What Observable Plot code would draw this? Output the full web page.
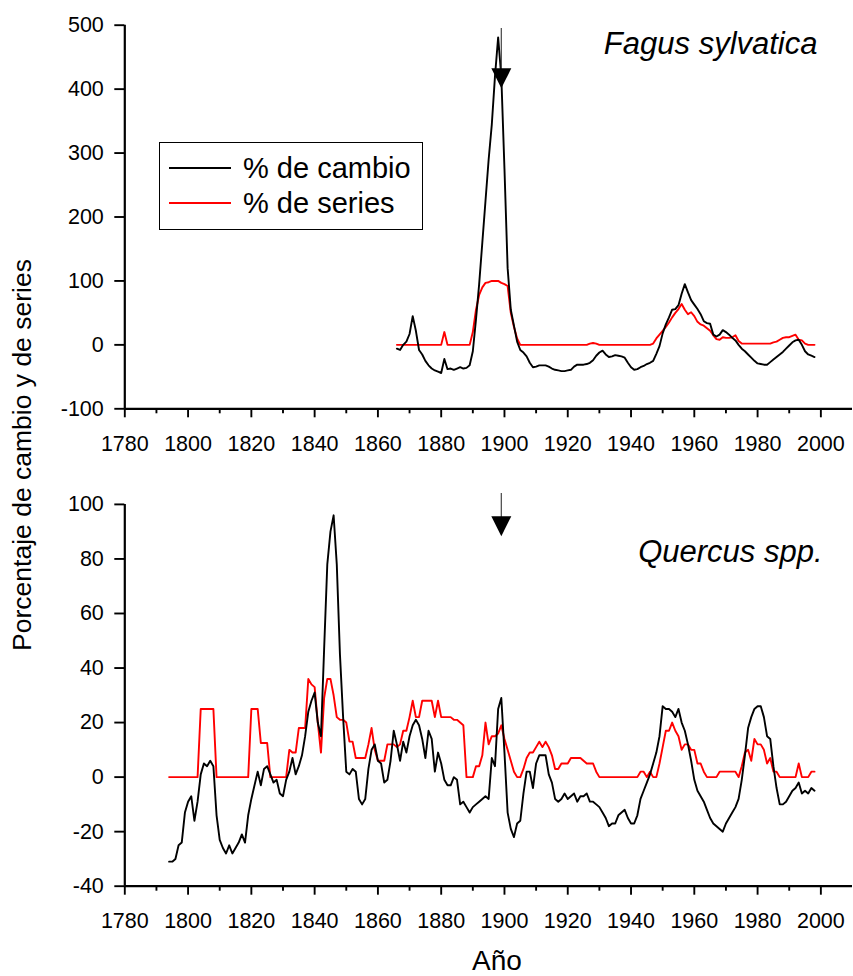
<!DOCTYPE html>
<html>
<head>
<meta charset="utf-8">
<script src="https://cdn.jsdelivr.net/npm/d3@7"></script>
<script src="https://cdn.jsdelivr.net/npm/@observablehq/plot@0.6"></script>
<style>
  html, body { margin: 0; padding: 0; background: #fff; }
  #wrap { position: relative; width: 853px; height: 976px; overflow: hidden; font-family: "Liberation Sans", Arial, sans-serif; color: #000; }
  #wrap svg { position: absolute; left: 0; overflow: visible; }
  .ylab { position: absolute; left: 22px; top: 455px; transform: translate(-50%, -50%) rotate(-90deg); font-size: 26.5px; line-height: 1; white-space: nowrap; }
  .xlab { position: absolute; left: 497px; top: 961px; transform: translate(-50%, -50%); font-size: 28px; line-height: 1; }
  .legend { position: absolute; left: 159px; top: 142px; width: 262px; height: 86px; border: 1.5px solid #000; background: #fff; }
  .legend .row { position: absolute; left: 9px; height: 30px; display: flex; align-items: center; font-size: 29px; line-height: 1; }
  .legend .sw { width: 62px; height: 2px; margin-right: 12px; }
</style>
</head>
<body>
<div id="wrap"></div>
<script>
// Fagus sylvatica: years 1866–1998
const fagusStart = 1866;
const fagusCambio = [
  -6, -8, 0, 5, 17, 45, 22, -8, -15, -25,            // 1866–1875
  -32, -37, -40, -42, -44, -22, -38, -37, -39, -37,  // 1876–1885
  -35, -37, -36, -32, -10, 40, 95, 160, 225, 290,    // 1886–1895
  345, 420, 481, 420, 275, 120, 55, 30, 5, -8,       // 1896–1905
  -12, -18, -28, -35, -34, -32, -32, -32, -34, -37,  // 1906–1915
  -39, -40, -41, -41, -40, -39, -34, -31, -31, -31,  // 1916–1925
  -30, -28, -24, -17, -12, -9, -15, -19, -18, -16,   // 1926–1935
  -17, -18, -20, -28, -35, -39, -38, -35, -33, -30,  // 1936–1945
  -28, -25, -14, -2, 18, 32, 43, 55, 56, 62,         // 1946–1955
  80, 95, 82, 70, 63, 56, 48, 37, 34, 33,            // 1956–1965
  16, 13, 16, 23, 20, 16, 11, 7, 0, -6,              // 1966–1975
  -10, -15, -20, -25, -29, -30, -31, -31, -27, -23,  // 1976–1985
  -19, -15, -11, -6, -1, 4, 7, 8, 0, -10,            // 1986–1995
  -15, -17, -19                                      // 1996–1998
];
const fagusSeries = [
  0, 0, 0, 0, 0, 0, 0, 0, 0, 0,                      // 1866–1875
  0, 0, 0, 0, 0, 20, 0, 0, 0, 0,                     // 1876–1885
  0, 0, 0, 0, 20, 55, 78, 90, 97, 98,                // 1886–1895
  100, 100, 100, 97, 95, 92, 50, 28, 10, 0,          // 1896–1905
  0, 0, 0, 0, 0, 0, 0, 0, 0, 0,                      // 1906–1915
  0, 0, 0, 0, 0, 0, 0, 0, 0, 0,                      // 1916–1925
  0, 2, 3, 2, 0, 0, 0, 0, 0, 0,                      // 1926–1935
  0, 0, 0, 0, 0, 0, 0, 0, 0, 0,                      // 1936–1945
  0, 2, 10, 16, 22, 28, 35, 43, 50, 56,              // 1946–1955
  64, 55, 48, 51, 45, 36, 32, 30, 26, 22,            // 1956–1965
  15, 9, 8, 12, 11, 11, 12, 15, 6, 2,                // 1966–1975
  2, 2, 2, 2, 2, 2, 2, 2, 2, 4,                      // 1976–1985
  5, 8, 11, 12, 12, 14, 16, 8, 7, 2,                 // 1986–1995
  0, 0, 0                                            // 1996–1998
];

// Quercus spp.: years 1794–1998
const quercusStart = 1794;
const quercusCambio = [
  -31, -31, -30, -25, -24, -13,                      // 1794–1799
  -9, -7, -16, -9, 1, 5, 4, 6, 4, -14,               // 1800–1809
  -23, -26, -28, -25, -28, -26, -24, -21, -24, -14,  // 1810–1819
  -8, -3, 2, -3, 3, 4, 1, -2, -1, -6,                // 1820–1829
  -7, -1, 2, 7, 1, 4, 8, 15, 24, 28,                 // 1830–1839
  31, 20, 15, 47, 78, 90, 96, 78, 45, 22,            // 1840–1849
  2, 1, 3, 2, -8, -10, -8, 3, 10, 12,                // 1850–1859
  6, 5, -2, -1, 6, 17, 12, 6, 13, 9,                 // 1860–1869
  15, 19, 21, 19, 14, 7, 17, 14, 2, 9,               // 1870–1879
  5, -1, -3, -3, 0, -1, -10, -9, -11, -13,           // 1880–1889
  -11, -10, -9, -8, -7, -8, 7, 4, 25, 29,            // 1890–1899
  9, -13, -19, -22, -17, -16, -6, 2, 2, -4,          // 1900–1909
  5, 8, 8, 8, 1, -2, -8, -9, -8, -6,                 // 1910–1919
  -8, -7, -6, -9, -7, -7, -6, -9, -9, -10,           // 1920–1929
  -11, -13, -15, -18, -17, -17, -14, -13, -12, -15,  // 1930–1939
  -17, -17, -14, -8, -5, -2, 1, 5, 9, 15,            // 1940–1949
  26, 25, 25, 24, 22, 25, 20, 17, 12, 6,             // 1950–1959
  -1, -5, -7, -9, -12, -15, -17, -18, -19, -20,      // 1960–1969
  -17, -15, -13, -11, -8, -1, 8, 18, 22, 25,         // 1970–1979
  26, 26, 22, 15, 14, 4, -4, -10, -10, -9,           // 1980–1989
  -7, -5, -4, -2, -6, -5, -6, -4, -5                 // 1990–1998
];
const quercusSeries = [
  0, 0, 0, 0, 0, 0,                                  // 1794–1799
  0, 0, 0, 0, 25, 25, 25, 25, 25, 0,                 // 1800–1809
  0, 0, 0, 0, 0, 0, 0, 0, 0, 0,                      // 1810–1819
  25, 25, 25, 12.5, 12.5, 12.5, 0, 0, 0, 0,          // 1820–1829
  0, 0, 10, 9, 9, 18, 18, 18, 36, 34,                // 1830–1839
  33, 20, 9, 29, 36, 36, 30, 22, 21, 21,             // 1840–1849
  20, 13, 13, 7, 7, 7, 7, 12, 18, 10,                // 1850–1859
  6, 6, 6, 12, 12, 12, 11, 12, 17, 17,               // 1860–1869
  22, 28, 22, 22, 28, 28, 28, 28, 22, 28,            // 1870–1879
  22, 22, 22, 22, 21, 21, 20, 19, 0, 0,              // 1880–1889
  0, 4, 4, 8, 20, 12, 15, 15, 16, 19,                // 1890–1899
  14, 10, 6, 2, 0, 0, 3, 7, 9, 9,                    // 1900–1909
  11, 13, 11, 13, 11, 8, 3, 3, 5, 5,                 // 1910–1919
  5, 7, 7, 7, 7, 6, 5, 5, 5, 2,                      // 1920–1929
  0, 0, 0, 0, 0, 0, 0, 0, 0, 0,                      // 1930–1939
  0, 0, 0, 2, 2, 0, 2, 0, 0, 5,                      // 1940–1949
  11, 17, 17, 20, 17, 15, 10, 12, 12, 10,            // 1950–1959
  10, 5, 5, 2, 0, 0, 0, 0, 2, 2,                     // 1960–1969
  2, 2, 2, 2, 0, 4, 9, 10, 6, 14,                    // 1970–1979
  12, 12, 10, 5, 7, 2, 2, 0, 0, 0,                   // 1980–1989
  0, 0, 0, 5, 0, 0, 0, 2, 2                          // 1990–1998
];

// Axis ticks
const xMajorTicks = [1780, 1800, 1820, 1840, 1860, 1880, 1900, 1920, 1940, 1960, 1980, 2000];
const xMinorTicks = [1790, 1810, 1830, 1850, 1870, 1890, 1910, 1930, 1950, 1970, 1990];
const fagusYTicks = [-100, 0, 100, 200, 300, 400, 500];
const quercusYTicks = [-40, -20, 0, 20, 40, 60, 80, 100];

// Event marker year and the arrow's value span in each panel: [line top, triangle centre]
const eventYear = 1899;
const fagusArrow = [495, 417];
const quercusArrow = [104, 92];

const seriesNames = ["% de cambio", "% de series"];
const seriesColors = ["#000000", "#ff0000"];

const font = "'Liberation Sans', Arial, sans-serif";

// downward-pointing filled triangle for the arrow head
const downTriangle = {
  draw(context, size) {
    const r = Math.sqrt(size / Math.PI);
    context.moveTo(-r, -r);
    context.lineTo(r, -r);
    context.lineTo(0, r);
    context.closePath();
  }
};

function toRows(start, values) {
  return values.map((v, i) => ({year: start + i, value: v}));
}

function panel({start, cambio, series, yDomain, yTicks, height, marginTop, marginBottom, name, nameDy, nameDx, arrow}) {
  const ink = 1.9;
  return Plot.plot({
    width: 853,
    height,
    marginLeft: 124.3,
    marginRight: 1,
    marginTop,
    marginBottom,
    x: {domain: [1780, 2010]},
    y: {domain: yDomain},
    style: {fontFamily: font, fontSize: "21.5px", color: "#000", background: "transparent", overflow: "visible"},
    marks: [
      Plot.axisY({ticks: yTicks, tickSize: 10, tickPadding: 11, tickFormat: d => String(d), strokeWidth: ink, label: null}),
      Plot.axisX({ticks: xMinorTicks, tickSize: 5, tickFormat: () => "", strokeWidth: ink, label: null}),
      Plot.axisX({ticks: xMajorTicks, tickSize: 9, tickPadding: 18, tickFormat: d => String(d), strokeWidth: ink, label: null}),
      Plot.ruleY([yDomain[0]], {stroke: "#000", strokeWidth: 2.2}),
      Plot.ruleX([1780], {stroke: "#000", strokeWidth: 2.2}),
      Plot.lineY(toRows(start, series), {x: "year", y: "value", stroke: seriesColors[1], strokeWidth: 1.9}),
      Plot.lineY(toRows(start, cambio), {x: "year", y: "value", stroke: seriesColors[0], strokeWidth: 1.9}),
      Plot.ruleX([eventYear], {y1: arrow[0], y2: arrow[1], stroke: "#444", strokeWidth: 1.2}),
      Plot.dot([eventYear], {x: d => d, y: () => arrow[1], symbol: downTriangle, r: 10, fill: "#000"}),
      Plot.text([name], {frameAnchor: "top-right", textAnchor: "end", lineAnchor: "top", dx: nameDx, dy: nameDy, fontSize: 31, fontStyle: "italic", fill: "#000"})
    ]
  });
}

const wrap = document.getElementById("wrap");

const fagusChart = panel({
  start: fagusStart, cambio: fagusCambio, series: fagusSeries,
  yDomain: [-100, 500], yTicks: fagusYTicks,
  height: 460, marginTop: 24.7, marginBottom: 51.7,
  name: "Fagus sylvatica", nameDx: -35, nameDy: 6.5, arrow: fagusArrow
});
fagusChart.style.top = "0px";
wrap.appendChild(fagusChart);

const quercusChart = panel({
  start: quercusStart, cambio: quercusCambio, series: quercusSeries,
  yDomain: [-40, 100], yTicks: quercusYTicks,
  height: 480, marginTop: 43.9, marginBottom: 54.3,
  name: "Quercus spp.", nameDx: -30, nameDy: 36, arrow: quercusArrow
});
quercusChart.style.top = "460px";
wrap.appendChild(quercusChart);

// shared axis titles
const ylab = document.createElement("div");
ylab.className = "ylab";
ylab.textContent = "Porcentaje de cambio y de series";
wrap.appendChild(ylab);

const xlab = document.createElement("div");
xlab.className = "xlab";
xlab.textContent = "Año";
wrap.appendChild(xlab);

// legend box in the upper panel
const legend = document.createElement("div");
legend.className = "legend";
seriesNames.forEach((n, i) => {
  const row = document.createElement("div");
  row.className = "row";
  row.style.top = (i === 0 ? 10 : 45) + "px";
  const sw = document.createElement("span");
  sw.className = "sw";
  sw.style.background = seriesColors[i];
  const t = document.createElement("span");
  t.textContent = n;
  row.appendChild(sw);
  row.appendChild(t);
  legend.appendChild(row);
});
wrap.appendChild(legend);
</script>
</body>
</html>
